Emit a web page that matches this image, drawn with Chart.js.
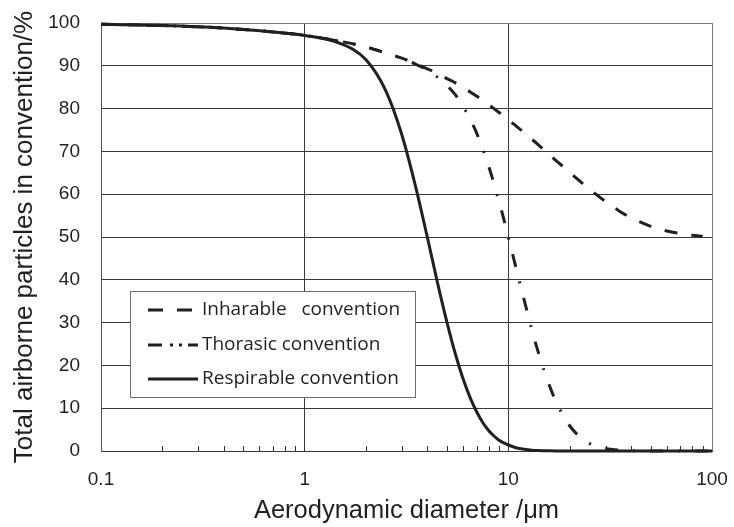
<!DOCTYPE html>
<html>
<head>
<meta charset="utf-8">
<script src="https://cdn.jsdelivr.net/npm/chart.js@4/dist/chart.umd.min.js"></script>
<style>
  html, body { margin: 0; padding: 0; background: #ffffff; }
  #wrap { width: 734px; height: 527px; }
</style>
</head>
<body>
<div id="wrap"><canvas id="c" width="734" height="527"></canvas></div>
<script>
// ---- data ----
const diameters = [0.1, 0.2, 0.3, 0.5, 0.7, 1, 1.5, 2, 2.5, 3, 3.5, 4, 4.5, 5, 5.5, 6, 6.5, 7, 7.5, 8, 8.5, 9, 9.5,
                   10, 11, 12, 13, 14, 15, 16, 17, 18, 20, 22, 25, 30, 35, 40, 50, 60, 70, 80, 90, 100];
const inhalable = [99.7, 99.4, 99.1, 98.5, 97.9, 97.1, 95.7, 94.4, 93.0, 91.8, 90.5, 89.3, 88.2, 87.0, 86.0, 84.9, 83.9, 82.9, 81.9, 80.9, 80.0, 79.1, 78.3,
                   77.4, 75.8, 74.3, 72.9, 71.6, 70.3, 69.1, 68.0, 67.0, 65.1, 63.4, 61.2, 58.3, 56.1, 54.5, 52.5, 51.4, 50.8, 50.4, 50.2, null];
const thoracic  = [99.7, 99.4, 99.1, 98.5, 97.9, 97.1, 95.7, 94.4, 93.0, 91.7, 90.4, 89.0, 87.3, 85.4, 83.2, 80.5, 77.5, 74.2, 70.5, 66.6, 62.5, 58.3, 54.2,
                   50.0, 42.1, 35.0, 28.6, 23.2, 18.7, 15.0, 11.9, 9.5, 5.9, 3.7, 1.8, 0.6, 0.2, 0.1, 0, 0, 0, 0, 0, 0];
const respirable = [99.7, 99.4, 99.1, 98.5, 97.9, 97.1, 95.2, 91.4, 84.2, 73.9, 61.9, 50.0, 39.1, 30.0, 22.6, 16.8, 12.4, 9.1, 6.6, 4.8, 3.5, 2.5, 1.9,
                   1.4, 0.7, 0.4, 0.2, 0.1, 0.07, 0.04, 0.02, 0.01, 0, 0, 0, 0, 0, 0, 0, 0, 0, 0, 0, 0];
const seriesLabels = ['Inharable   convention', 'Thorasic convention', 'Respirable convention'];
const xTickValues = [0.1, 1, 10, 100];
const xMinorTicks = [0.2, 0.3, 0.4, 0.5, 0.6, 0.7, 0.8, 0.9, 2, 3, 4, 5, 6, 7, 8, 9, 20, 30, 40, 50, 60, 70, 80, 90];
const yTickStep = 10;

const INK = '#231f20';
const seriesDash = [[13, 14], [13, 15, 2, 15], []];
const legendDash = [[15, 14], [14, 8, 3, 6, 3, 6], []];
const seriesWidth = [3, 3, 3];

function pts(vals) {
  const out = [];
  diameters.forEach((d, i) => { if (vals[i] !== null) out.push({ x: d, y: vals[i] }); });
  return out;
}

const minorTicksPlugin = {
  id: 'minorTicks',
  beforeDatasetsDraw(chart) {
    const xs = chart.scales.x, ys = chart.scales.y, ctx = chart.ctx;
    const yb = Math.round(ys.getPixelForValue(0));
    ctx.save();
    ctx.strokeStyle = '#333333';
    ctx.lineWidth = 1;
    xMinorTicks.forEach(v => {
      const px = Math.round(xs.getPixelForValue(v)) + 0.5;
      ctx.beginPath();
      ctx.moveTo(px, yb);
      ctx.lineTo(px, yb - 5);
      ctx.stroke();
    });
    ctx.restore();
  }
};

const boxLegendPlugin = {
  id: 'boxLegend',
  afterDatasetsDraw(chart) {
    const ctx = chart.ctx;
    const bx = 130, by = 291, bw = 285, bh = 106;
    ctx.save();
    ctx.fillStyle = '#ffffff';
    ctx.fillRect(bx, by, bw, bh);
    ctx.strokeStyle = '#6d6d6d';
    ctx.lineWidth = 1;
    ctx.strokeRect(bx + 0.5, by + 0.5, bw, bh);
    const rows = [310, 345, 379];
    chart.data.datasets.forEach((ds, i) => {
      const y = rows[i];
      ctx.strokeStyle = INK;
      ctx.lineWidth = 3;
      ctx.setLineDash(legendDash[i]);
      ctx.beginPath();
      ctx.moveTo(148, y);
      ctx.lineTo(198, y);
      ctx.stroke();
      ctx.setLineDash([]);
      ctx.fillStyle = INK;
      ctx.font = '19px "Open Sans"';
      ctx.textBaseline = 'middle';
      ctx.textAlign = 'left';
      ctx.fillText(ds.label, 202, y);
    });
    ctx.restore();
  }
};

new Chart(document.getElementById('c'), {
  type: 'line',
  data: {
    datasets: [
      { label: seriesLabels[0], data: pts(inhalable), borderColor: INK, borderWidth: seriesWidth[0], borderDash: seriesDash[0],
        pointRadius: 0, cubicInterpolationMode: 'monotone', fill: false, clip: 4 },
      { label: seriesLabels[1], data: pts(thoracic), borderColor: INK, borderWidth: seriesWidth[1], borderDash: seriesDash[1],
        pointRadius: 0, cubicInterpolationMode: 'monotone', fill: false, clip: 4 },
      { label: seriesLabels[2], data: pts(respirable), borderColor: INK, borderWidth: seriesWidth[2], borderDash: seriesDash[2],
        pointRadius: 0, cubicInterpolationMode: 'monotone', fill: false, clip: 4 }
    ]
  },
  options: {
    responsive: false,
    devicePixelRatio: 1,
    animation: false,
    layout: { padding: { top: 23, right: 22, left: 0, bottom: 0 } },
    plugins: { legend: { display: false }, tooltip: { enabled: false } },
    scales: {
      x: {
        type: 'logarithmic',
        min: 0.1,
        max: 100,
        afterBuildTicks: (s) => { s.ticks = xTickValues.map(v => ({ value: v })); },
        afterFit: (s) => { s.height = 76; s.paddingLeft = 0; s.paddingRight = 0; },
        ticks: {
          autoSkip: false,
          maxRotation: 0,
          padding: 17,
          color: INK,
          font: { family: '"Liberation Sans", Arial, sans-serif', size: 19 },
          callback: (v) => String(v)
        },
        grid: {
          drawTicks: false,
          color: (c) => (c.tick && c.tick.value === 100) ? '#7a7a7a' : '#3a3a3a',
          lineWidth: 1
        },
        border: { color: '#3a3a3a', width: 1 },
        title: {
          display: true,
          text: 'Aerodynamic diameter /μm',
          color: INK,
          font: { family: '"Liberation Sans", Arial, sans-serif', size: 25.5 },
          padding: { top: 0, bottom: 1 }
        }
      },
      y: {
        type: 'linear',
        min: 0,
        max: 100,
        afterFit: (s) => { s.width = 101; s.paddingTop = 0; s.paddingBottom = 0; },
        ticks: {
          stepSize: yTickStep,
          padding: 21,
          color: INK,
          font: { family: '"Liberation Sans", Arial, sans-serif', size: 19 }
        },
        grid: {
          drawTicks: false,
          color: (c) => (c.tick && c.tick.value === 100) ? '#7a7a7a' : '#3a3a3a',
          lineWidth: 1
        },
        border: { color: '#555555', width: 1 },
        title: {
          display: true,
          text: 'Total airborne particles in convention/%',
          color: INK,
          font: { family: '"Liberation Sans", Arial, sans-serif', size: 26 },
          padding: { top: 9, bottom: 0 }
        }
      }
    }
  },
  plugins: [minorTicksPlugin, boxLegendPlugin]
});
</script>
</body>
</html>
